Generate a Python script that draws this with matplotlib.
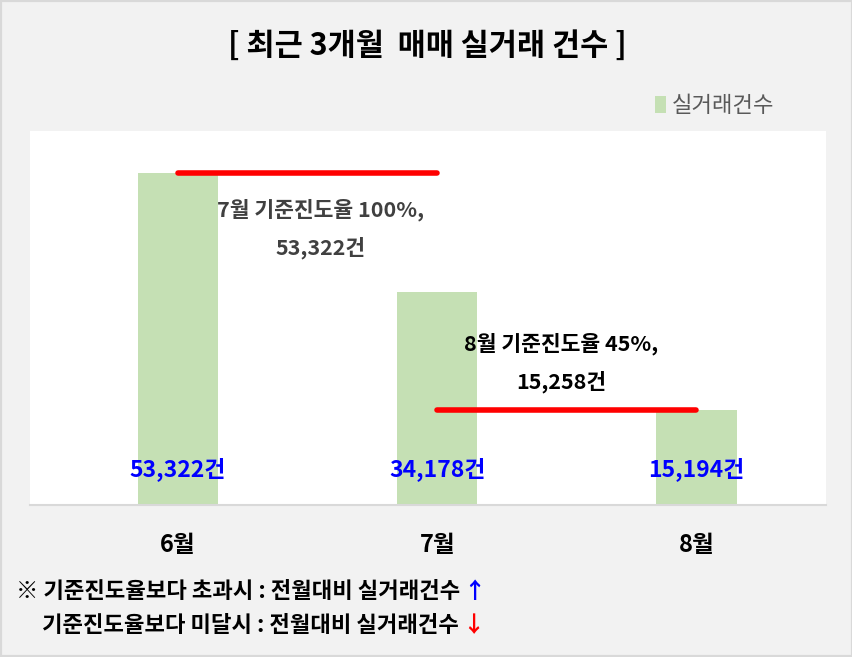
import matplotlib.pyplot as plt
from matplotlib.patches import Rectangle

plt.rcParams['font.family'] = ['Noto Sans CJK KR', 'DejaVu Sans']

# data
months = ['6월', '7월', '8월']
counts = [53322, 34178, 15194]
count_labels = ['53,322건', '34,178건', '15,194건']
ref_july = 53322     # 7월 기준진도율 100%
ref_aug = 15258      # 8월 기준진도율 45%

fig = plt.figure(figsize=(8.53, 6.57), dpi=100)
fig.patch.set_facecolor('#f2f2f2')
fig.patches.append(Rectangle((0, 0), 1, 1, transform=fig.transFigure,
                             fill=False, edgecolor='#d9d9d9', linewidth=3))

W, H = 853, 657
ax = fig.add_axes([30 / W, 1 - 505 / H, 796 / W, 374 / H])
ax.set_facecolor('white')

x = list(range(len(months)))
ax.bar(x, counts, width=0.31, color='#c5e0b4', label='실거래건수', zorder=2)
ax.set_xlim(-0.571, 2.5)
ax.set_ylim(0, 60000)

# reference lines
ax.plot([0, 1], [ref_july, ref_july], color='red', lw=4, solid_capstyle='round', zorder=3)
ax.plot([1, 2], [ref_aug, ref_aug], color='red', lw=4, solid_capstyle='round', zorder=3)

# value labels
for xi, lab in zip(x, count_labels):
    ax.text(xi, 5700, lab, color='#0000ff', fontsize=16.5, fontweight='bold',
            ha='center', va='center', zorder=4)

ax.text(0.55, 47400, '7월 기준진도율 100%,', color='#404040', fontsize=15.5,
        fontweight='bold', ha='center', va='center', zorder=4)
ax.text(0.55, 41300, '53,322건', color='#404040', fontsize=15.5,
        fontweight='bold', ha='center', va='center', zorder=4)
ax.text(1.48, 25800, '8월 기준진도율 45%,', color='black', fontsize=15.5,
        fontweight='bold', ha='center', va='center', zorder=4)
ax.text(1.48, 19700, '15,258건', color='black', fontsize=15.5,
        fontweight='bold', ha='center', va='center', zorder=4)

ax.set_yticks([])
ax.set_xticks(x)
ax.set_xticklabels(months, fontsize=17, fontweight='bold')
ax.tick_params(axis='x', length=0, pad=20)
for s in ['top', 'left', 'right']:
    ax.spines[s].set_visible(False)
ax.spines['bottom'].set_color('#d9d9d9')
ax.spines['bottom'].set_linewidth(1.5)

fig.text(427 / W, 1 - 46 / H, '[ 최근 3개월  매매 실거래 건수 ]', fontsize=22,
         fontweight='bold', ha='center', va='center')

leg = fig.legend(loc='center left', bbox_to_anchor=(646 / W, 1 - 106 / H),
                 frameon=False, fontsize=16, handlelength=0.5, handleheight=0.8,
                 handletextpad=0.25, borderaxespad=0)
for t in leg.get_texts():
    t.set_color('#595959')

# notes with coloured arrows placed right after the text
t1 = fig.text(16 / W, 1 - 591 / H, '※ 기준진도율보다 초과시 : 전월대비 실거래건수', fontsize=16,
              fontweight='bold', ha='left', va='center')
t2 = fig.text(42 / W, 1 - 626 / H, '기준진도율보다 미달시 : 전월대비 실거래건수', fontsize=16,
              fontweight='bold', ha='left', va='center')
fig.canvas.draw()
r = fig.canvas.get_renderer()
e1 = t1.get_window_extent(r)
e2 = t2.get_window_extent(r)
fig.text((e1.x1 + 3) / W, 1 - 591 / H, '↑', fontsize=16, fontweight='bold', color='#0000ff',
         ha='left', va='center')
fig.text((e2.x1 + 3) / W, 1 - 626 / H, '↓', fontsize=16, fontweight='bold', color='red',
         ha='left', va='center')

fig.savefig('out.png', dpi=100, facecolor=fig.get_facecolor())
